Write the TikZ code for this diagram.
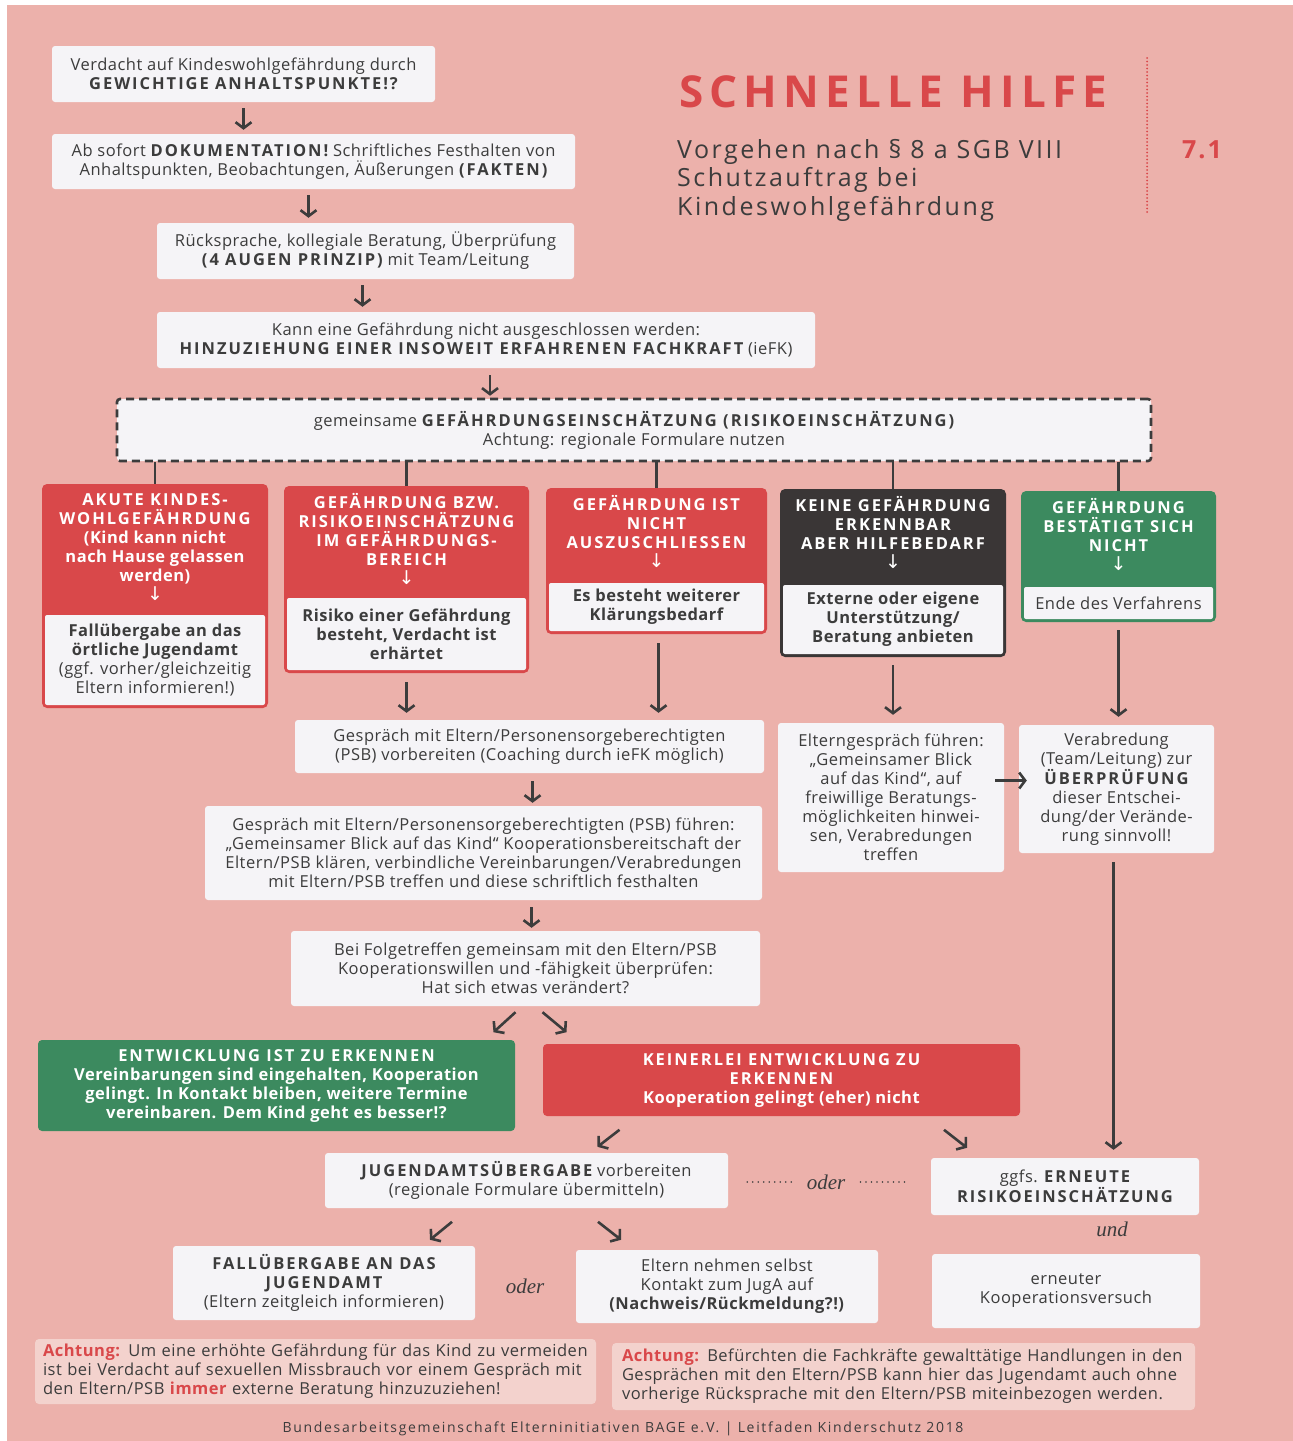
\documentclass[tikz,border=0pt]{standalone}
\usepackage{fontspec}
\setmainfont{Open Sans}[LetterSpace=3]
\newfontfamily\pfeilfont{DejaVu Sans}
\newfontfamily\oderfont{Liberation Serif}
\usetikzlibrary{arrows.meta,positioning}

\definecolor{Rosa}{HTML}{ECB1AB}
\definecolor{Rot}{HTML}{D9484A}
\definecolor{Dunkel}{HTML}{3A3636}
\definecolor{Gruen}{HTML}{3C8A5F}
\definecolor{Weiss}{HTML}{F5F4F7}
\definecolor{Schrift}{HTML}{3C3C3C}
\definecolor{Hinweis}{HTML}{F3D2CD}

\newcommand\grundschrift{\fontsize{16.5}{19}\selectfont}
\newcommand\versal[1]{{\bfseries\addfontfeatures{LetterSpace=12}#1}}
\newcommand\runter{{\pfeilfont\mdseries\fontsize{19}{19}\selectfont ↓}}

\begin{document}
\begin{tikzpicture}[x=1pt, y=-1pt,
    every node/.style={font=\grundschrift, text=Schrift},
    kasten/.style={fill=Weiss, rounded corners=3pt, align=center, inner sep=0pt},
    kat/.style={fill=#1, rounded corners=5pt, inner sep=0pt},
    kopf/.style={text=white, font=\grundschrift\bfseries, align=center, inner sep=0pt},
    fuss/.style={fill=Weiss, rounded corners=2pt, align=center, inner sep=0pt, font=\grundschrift\bfseries},
    farbig/.style={fill=#1, rounded corners=4pt, align=center, inner sep=0pt, text=white, font=\grundschrift\bfseries},
    hinweis/.style={fill=Hinweis, rounded corners=4pt, align=left, inner ysep=0pt},
    oder/.style={font=\oderfont\itshape\fontsize{21}{24}\selectfont, inner sep=0pt},
    linie/.style={draw=Schrift, line width=2.6pt},
    pfeil/.style={draw=Schrift, line width=2.6pt, -{Straight Barb[length=6pt,width=16pt]}},
    punkte/.style={draw=Schrift, line width=1.8pt, line cap=round, dash pattern=on 0pt off 5.5pt}]

  \fill[white] (0,0) rectangle (1293,1441);
  \fill[Rosa] (7,5) rectangle (1293,1441);
  \useasboundingbox (0,0) rectangle (1293,1441);

  % Kopf
  \node[anchor=base west, text=Rot, inner sep=0pt,
    font=\fontsize{44}{50}\selectfont\bfseries\addfontfeatures{LetterSpace=14}] (titel) at (679,107) {SCHNELLE HILFE};
  \node[anchor=north west, align=left, inner sep=0pt,
    font=\fontsize{25}{28.5}\selectfont\addfontfeatures{LetterSpace=10}] (untertitel) at (677,139)
    {Vorgehen nach § 8 a SGB VIII\\Schutzauftrag bei\\Kindeswohlgefährdung};
  \draw[Rot, line width=2pt, line cap=round, dash pattern=on 0pt off 3.5pt] (1147,58) -- (1147,215);
  \node[anchor=base, text=Rot, inner sep=0pt,
    font=\fontsize{25}{30}\selectfont\bfseries\addfontfeatures{LetterSpace=8}] (kapitel) at (1202,158) {7.1};

  % Einstieg
  \node[kasten, minimum width=383, minimum height=56] (verdacht) at (243.5,74)
    {Verdacht auf Kindeswohlgefährdung durch\\\versal{GEWICHTIGE ANHALTSPUNKTE!?}};
  \node[kasten, minimum width=523, minimum height=55] (doku) at (313.5,161.5)
    {Ab sofort \versal{DOKUMENTATION!} Schriftliches Festhalten von\\Anhaltspunkten, Beobachtungen, Äußerungen \versal{(FAKTEN)}};
  \node[kasten, minimum width=417, minimum height=56] (ruecks) at (365.5,251)
    {Rücksprache, kollegiale Beratung, Überprüfung\\\versal{(4 AUGEN PRINZIP)} mit Team/Leitung};
  \node[kasten, minimum width=658, minimum height=56] (hinzu) at (486,340)
    {Kann eine Gefährdung nicht ausgeschlossen werden:\\\versal{HINZUZIEHUNG EINER INSOWEIT ERFAHRENEN FACHKRAFT} (ieFK)};
  \node[kasten, minimum width=1034, minimum height=62, draw=Schrift, line width=2.6pt,
    dash pattern=on 8pt off 5pt] (risiko) at (634,430)
    {gemeinsame \versal{GEFÄHRDUNGSEINSCHÄTZUNG (RISIKOEINSCHÄTZUNG)}\\Achtung: regionale Formulare nutzen};

  \draw[pfeil] ([yshift=-6pt]verdacht.south) -- ([yshift=4pt]verdacht.south |- doku.north);
  \draw[pfeil] ([xshift=-5pt,yshift=-6pt]doku.south) -- ([xshift=-5pt,yshift=5pt]doku.south |- ruecks.north);
  \draw[pfeil] ([xshift=-3pt,yshift=-6pt]ruecks.south) -- ([xshift=-3pt,yshift=5pt]ruecks.south |- hinzu.north);
  \draw[pfeil] ([xshift=4pt,yshift=-7pt]hinzu.south) -- ([xshift=4pt,yshift=2pt]hinzu.south |- risiko.north);

  % Einschaetzungen
  \node[kat=Rot, minimum width=226, minimum height=224] (kat1) at (155,596) {};
  \node[kopf, below=10pt of kat1.north] (kat1k)
    {\versal{AKUTE KINDES-}\\\versal{WOHLGEFÄHRDUNG}\\(Kind kann nicht\\nach Hause gelassen\\werden)\\\runter};
  \node[fuss, minimum width=220, minimum height=90, above=3pt of kat1.south] (kat1f)
    {Fallübergabe an das\\örtliche Jugendamt\\\mdseries(ggf. vorher/gleichzeitig\\\mdseries Eltern informieren!)};

  \node[kat=Rot, minimum width=245, minimum height=187] (kat2) at (406.5,579.5) {};
  \node[kopf, below=7pt of kat2.north] (kat2k)
    {\versal{GEFÄHRDUNG BZW.}\\\versal{RISIKOEINSCHÄTZUNG}\\\versal{IM GEFÄHRDUNGS-}\\\versal{BEREICH}\\\runter};
  \node[fuss, minimum width=239, minimum height=72, above=3pt of kat2.south] (kat2f)
    {Risiko einer Gefährdung\\besteht, Verdacht ist\\erhärtet};

  \node[kat=Rot, minimum width=221, minimum height=146] (kat3) at (656.5,561) {};
  \node[kopf, below=7pt of kat3.north] (kat3k)
    {\versal{GEFÄHRDUNG IST}\\\versal{NICHT}\\\versal{AUSZUSCHLIESSEN}\\\runter};
  \node[fuss, minimum width=215, minimum height=48, above=3pt of kat3.south] (kat3f)
    {Es besteht weiterer\\Klärungsbedarf};

  \node[kat=Dunkel, minimum width=226, minimum height=168] (kat4) at (893,573) {};
  \node[kopf, below=7pt of kat4.north] (kat4k)
    {\versal{KEINE GEFÄHRDUNG}\\\versal{ERKENNBAR}\\\versal{ABER HILFEBEDARF}\\\runter};
  \node[fuss, minimum width=220, minimum height=69, above=3pt of kat4.south] (kat4f)
    {Externe oder eigene\\Unterstützung/\\Beratung anbieten};

  \node[kat=Gruen, minimum width=195, minimum height=131] (kat5) at (1118.5,556.5) {};
  \node[kopf, below=7pt of kat5.north] (kat5k)
    {\versal{GEFÄHRDUNG}\\\versal{BESTÄTIGT SICH}\\\versal{NICHT}\\\runter};
  \node[fuss, minimum width=189, minimum height=32, above=3pt of kat5.south, font=\grundschrift] (kat5f)
    {Ende des Verfahrens};

  \foreach \k in {kat1,kat2,kat3,kat4,kat5}
    \draw[linie] (\k.north) -- (\k.north |- risiko.south);

  % Gespraeche
  \node[kasten, minimum width=469, minimum height=53] (gvor) at (529.5,746.5)
    {Gespräch mit Eltern/Personensorgeberechtigten\\(PSB) vorbereiten (Coaching durch ieFK möglich)};
  \node[kasten, minimum width=557, minimum height=94] (gfuehr) at (483.5,853)
    {Gespräch mit Eltern/Personensorgeberechtigten (PSB) führen:\\„Gemeinsamer Blick auf das Kind“ Kooperationsbereitschaft der\\Eltern/PSB klären, verbindliche Vereinbarungen/Verabredungen\\mit Eltern/PSB treffen und diese schriftlich festhalten};
  \node[kasten, minimum width=469, minimum height=75] (folge) at (525.5,968.5)
    {Bei Folgetreffen gemeinsam mit den Eltern/PSB\\Kooperationswillen und -fähigkeit überprüfen:\\Hat sich etwas verändert?};
  \node[kasten, minimum width=226, minimum height=149] (eltg) at (891,797.5)
    {Elterngespräch führen:\\„Gemeinsamer Blick\\auf das Kind“, auf\\freiwillige Beratungs-\\möglichkeiten hinwei-\\sen, Verabredungen\\treffen};
  \node[kasten, minimum width=195, minimum height=128] (verab) at (1116.5,789)
    {Verabredung\\(Team/Leitung) zur\\\versal{ÜBERPRÜFUNG}\\dieser Entschei-\\dung/der Verände-\\rung sinnvoll!};

  \draw[pfeil] ([yshift=-9pt]kat2.south) -- ([yshift=7pt]kat2.south |- gvor.north);
  \draw[pfeil] ([xshift=2pt,yshift=-9pt]kat3.south) -- ([xshift=2pt,yshift=7pt]kat3.south |- gvor.north);
  \draw[pfeil] ([yshift=-8pt]kat4.south) -- ([yshift=8pt]kat4.south |- eltg.north);
  \draw[pfeil] ([yshift=-8pt]kat5.south) -- ([yshift=8pt]kat5.south |- verab.north);
  \draw[pfeil] ([xshift=3pt,yshift=-8pt]gvor.south) -- ([xshift=3pt,yshift=3pt]gvor.south |- gfuehr.north);
  \draw[pfeil] ([xshift=6pt,yshift=-7pt]folge.north |- gfuehr.south) -- ([xshift=6pt,yshift=3pt]folge.north);
  \draw[pfeil] ([xshift=-9pt,yshift=17pt]eltg.east) -- ([xshift=8pt,yshift=17pt]eltg.east -| verab.west);

  % Verlauf
  \node[farbig=Gruen, minimum width=477, minimum height=91] (entw) at (276.5,1085.5)
    {\versal{ENTWICKLUNG IST ZU ERKENNEN}\\Vereinbarungen sind eingehalten, Kooperation\\gelingt. In Kontakt bleiben, weitere Termine\\vereinbaren. Dem Kind geht es besser!?};
  \node[farbig=Rot, minimum width=477, minimum height=72] (keine) at (781.5,1080)
    {\versal{KEINERLEI ENTWICKLUNG ZU}\\\versal{ERKENNEN}\\Kooperation gelingt (eher) nicht};

  \draw[pfeil] ([xshift=-10pt,yshift=-6pt]folge.south) -- ([xshift=-32pt,yshift=-26pt]folge.south);
  \draw[pfeil] ([xshift=17pt,yshift=-6pt]folge.south) -- ([xshift=41pt,yshift=-26pt]folge.south);

  \node[kasten, minimum width=403, minimum height=55] (juga) at (526.5,1180.5)
    {\versal{JUGENDAMTSÜBERGABE} vorbereiten\\(regionale Formulare übermitteln)};
  \node[oder] (oder1) at (826,1182) {oder};
  \node[kasten, minimum width=268, minimum height=57] (erneut) at (1065,1186.5)
    {ggfs. \versal{ERNEUTE}\\\versal{RISIKOEINSCHÄTZUNG}};
  \node[oder] (und1) at (1112,1229) {und};
  \node[kasten, minimum width=302, minimum height=74] (fall) at (324,1283)
    {\versal{FALLÜBERGABE AN DAS}\\\versal{JUGENDAMT}\\(Eltern zeitgleich informieren)};
  \node[oder] (oder2) at (525,1286) {oder};
  \node[kasten, minimum width=302, minimum height=73] (selbst) at (727,1286.5)
    {Eltern nehmen selbst\\Kontakt zum JugA auf\\\textbf{(Nachweis/Rückmeldung?!)}};
  \node[kasten, minimum width=268, minimum height=74] (koop) at (1066,1291)
    {erneuter\\Kooperationsversuch};

  \draw[punkte] ([xshift=19pt]juga.east |- oder1.center) -- ([xshift=-14pt]oder1.west);
  \draw[punkte] ([xshift=15pt]oder1.east) -- ([xshift=-24pt]erneut.west |- oder1.center);
  \draw[pfeil] ([xshift=-3pt,yshift=-9pt]verab.south) -- ([xshift=-3pt,yshift=8pt]verab.south |- erneut.north);
  \draw[pfeil] ([xshift=93pt,yshift=23pt]juga.north) -- ([xshift=71pt,yshift=6pt]juga.north);
  \draw[pfeil] ([xshift=-121pt,yshift=28pt]erneut.north) -- ([xshift=-98pt,yshift=10pt]erneut.north);
  \draw[pfeil] ([xshift=128pt,yshift=24pt]fall.north) -- ([xshift=106pt,yshift=6pt]fall.north);
  \draw[pfeil] ([xshift=-129pt,yshift=28pt]selbst.north) -- ([xshift=-106pt,yshift=10pt]selbst.north);

  % Hinweise
  \node[hinweis, inner xsep=8pt, text width=545, minimum height=65] (hinw1) at (315.5,1371.5)
    {{\color{Rot}\bfseries Achtung:} Um eine erhöhte Gefährdung für das Kind zu vermeiden\\ist bei Verdacht auf sexuellen Missbrauch vor einem Gespräch mit\\den Eltern/PSB {\color{Rot}\bfseries immer} externe Beratung hinzuzuziehen!};
  \node[hinweis, inner xsep=10pt, text width=563, minimum height=67] (hinw2) at (903.5,1376.5)
    {{\color{Rot}\bfseries Achtung:} Befürchten die Fachkräfte gewalttätige Handlungen in den\\Gesprächen mit den Eltern/PSB kann hier das Jugendamt auch ohne\\vorherige Rücksprache mit den Eltern/PSB miteinbezogen werden.};
  \node[anchor=base, inner sep=0pt, font=\fontsize{14}{16}\selectfont\addfontfeatures{LetterSpace=12}] (quelle) at (623,1432)
    {Bundesarbeitsgemeinschaft Elterninitiativen BAGE e.\,V. | Leitfaden Kinderschutz 2018};
\end{tikzpicture}
\end{document}
